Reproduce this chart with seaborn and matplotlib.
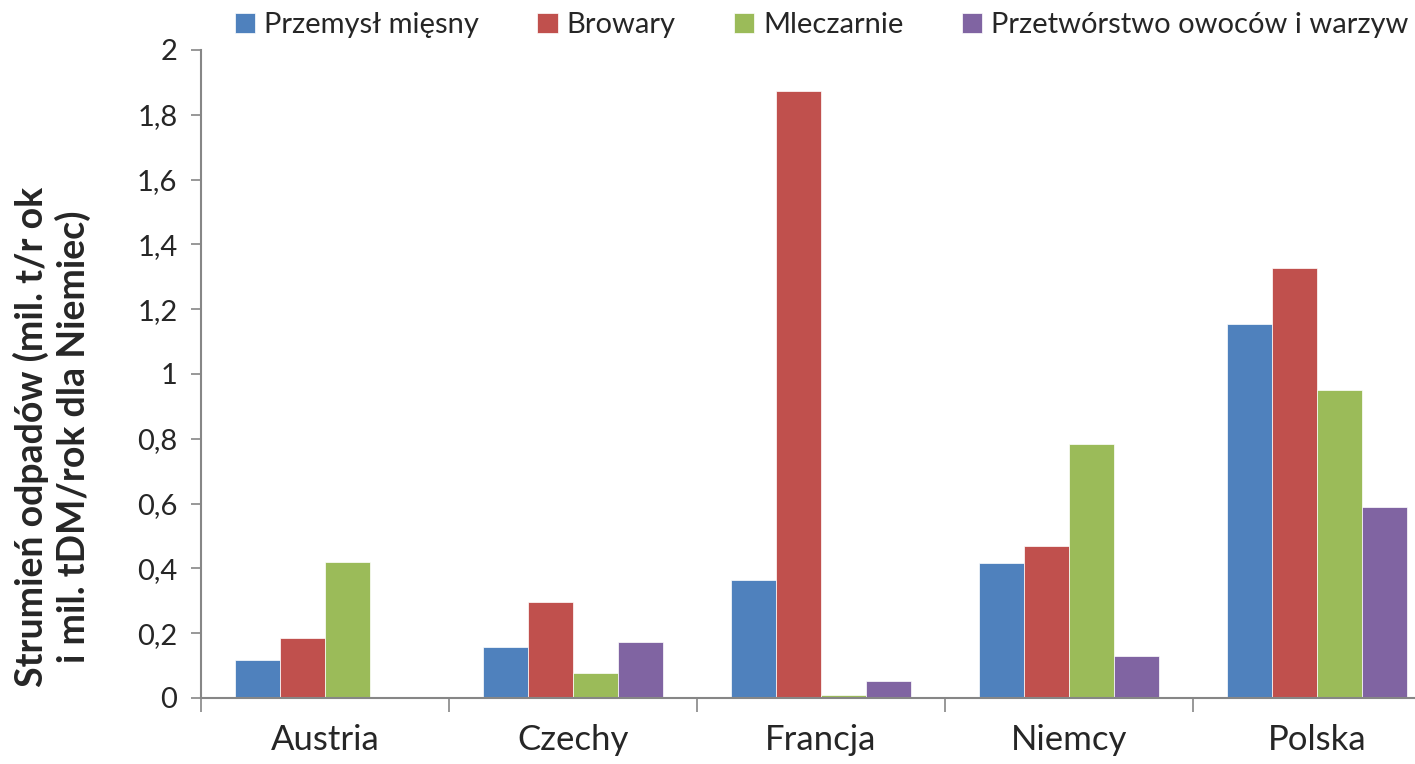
import matplotlib
matplotlib.use("Agg")
import matplotlib.pyplot as plt
import matplotlib.ticker as mticker
import seaborn as sns
import pandas as pd

kraje = ["Austria", "Czechy", "Francja", "Niemcy", "Polska"]
przemysl_miesny = [0.117, 0.157, 0.364, 0.417, 1.154]
browary = [0.185, 0.296, 1.873, 0.469, 1.327]
mleczarnie = [0.42, 0.077, 0.009, 0.784, 0.951]
owoce_warzywa = [0.0, 0.173, 0.052, 0.13, 0.59]

serie = ["Przemysł mięsny", "Browary", "Mleczarnie", "Przetwórstwo owoców i warzyw"]
kolory = ["#4F81BD", "#C0504D", "#9BBB59", "#8064A2"]

rows = []
for nazwa, wartosci in zip(serie, [przemysl_miesny, browary, mleczarnie, owoce_warzywa]):
    for k, v in zip(kraje, wartosci):
        rows.append({"kraj": k, "seria": nazwa, "wartosc": v})
df = pd.DataFrame(rows)

sns.set_style("white")
plt.rcParams["font.family"] = ["Lato", "DejaVu Sans"]

fig = plt.figure(figsize=(14.15, 7.64), dpi=100)
ax = fig.add_axes([201 / 1415, 1 - 698 / 764, 1240 / 1415, 648 / 764])

sns.barplot(data=df, x="kraj", y="wartosc", hue="seria", hue_order=serie,
            palette=kolory, width=0.726, saturation=1, ax=ax,
            edgecolor="white", linewidth=0.5, legend=True)

ax.set_ylim(0, 2)
ax.set_xlim(-0.5, 4.5)
ax.yaxis.set_major_locator(mticker.MultipleLocator(0.2))
ax.yaxis.set_major_formatter(mticker.FuncFormatter(
    lambda v, p: ("%g" % round(v, 1)).replace(".", ",")))
ax.tick_params(axis="y", labelsize=21, length=7, width=1.2, color="#868686",
               direction="out", left=True, pad=10)
ax.set_xticks(range(5))
ax.set_xticklabels(kraje)
ax.set_xticks([i - 0.5 for i in range(6)], minor=True)
ax.tick_params(axis="x", which="major", length=0, labelsize=25, pad=19)
ax.tick_params(axis="x", which="minor", length=10, width=1.2, color="#868686",
               direction="out", bottom=True)
ax.set_xlabel("")
ax.set_ylabel("")
for s in ["top", "right"]:
    ax.spines[s].set_visible(False)
for s in ["left", "bottom"]:
    ax.spines[s].set_color("#868686")
    ax.spines[s].set_linewidth(1.5)

handles, labels = ax.get_legend_handles_labels()
ax.get_legend().remove()
fig.legend(handles, labels, loc="center", bbox_to_anchor=(0.5806, 0.967), ncol=4,
           frameon=False, fontsize=21, handlelength=0.7, handleheight=0.7,
           handletextpad=0.3, columnspacing=2.0)

fig.text(52 / 1415, 0.428, "Strumień odpadów (mil. t/r ok\ni mil. tDM/rok dla Niemiec)",
         rotation=90, ha="center", va="center", fontsize=27, fontweight="bold",
         linespacing=1.2)

fig.savefig("out.png", dpi=100)
